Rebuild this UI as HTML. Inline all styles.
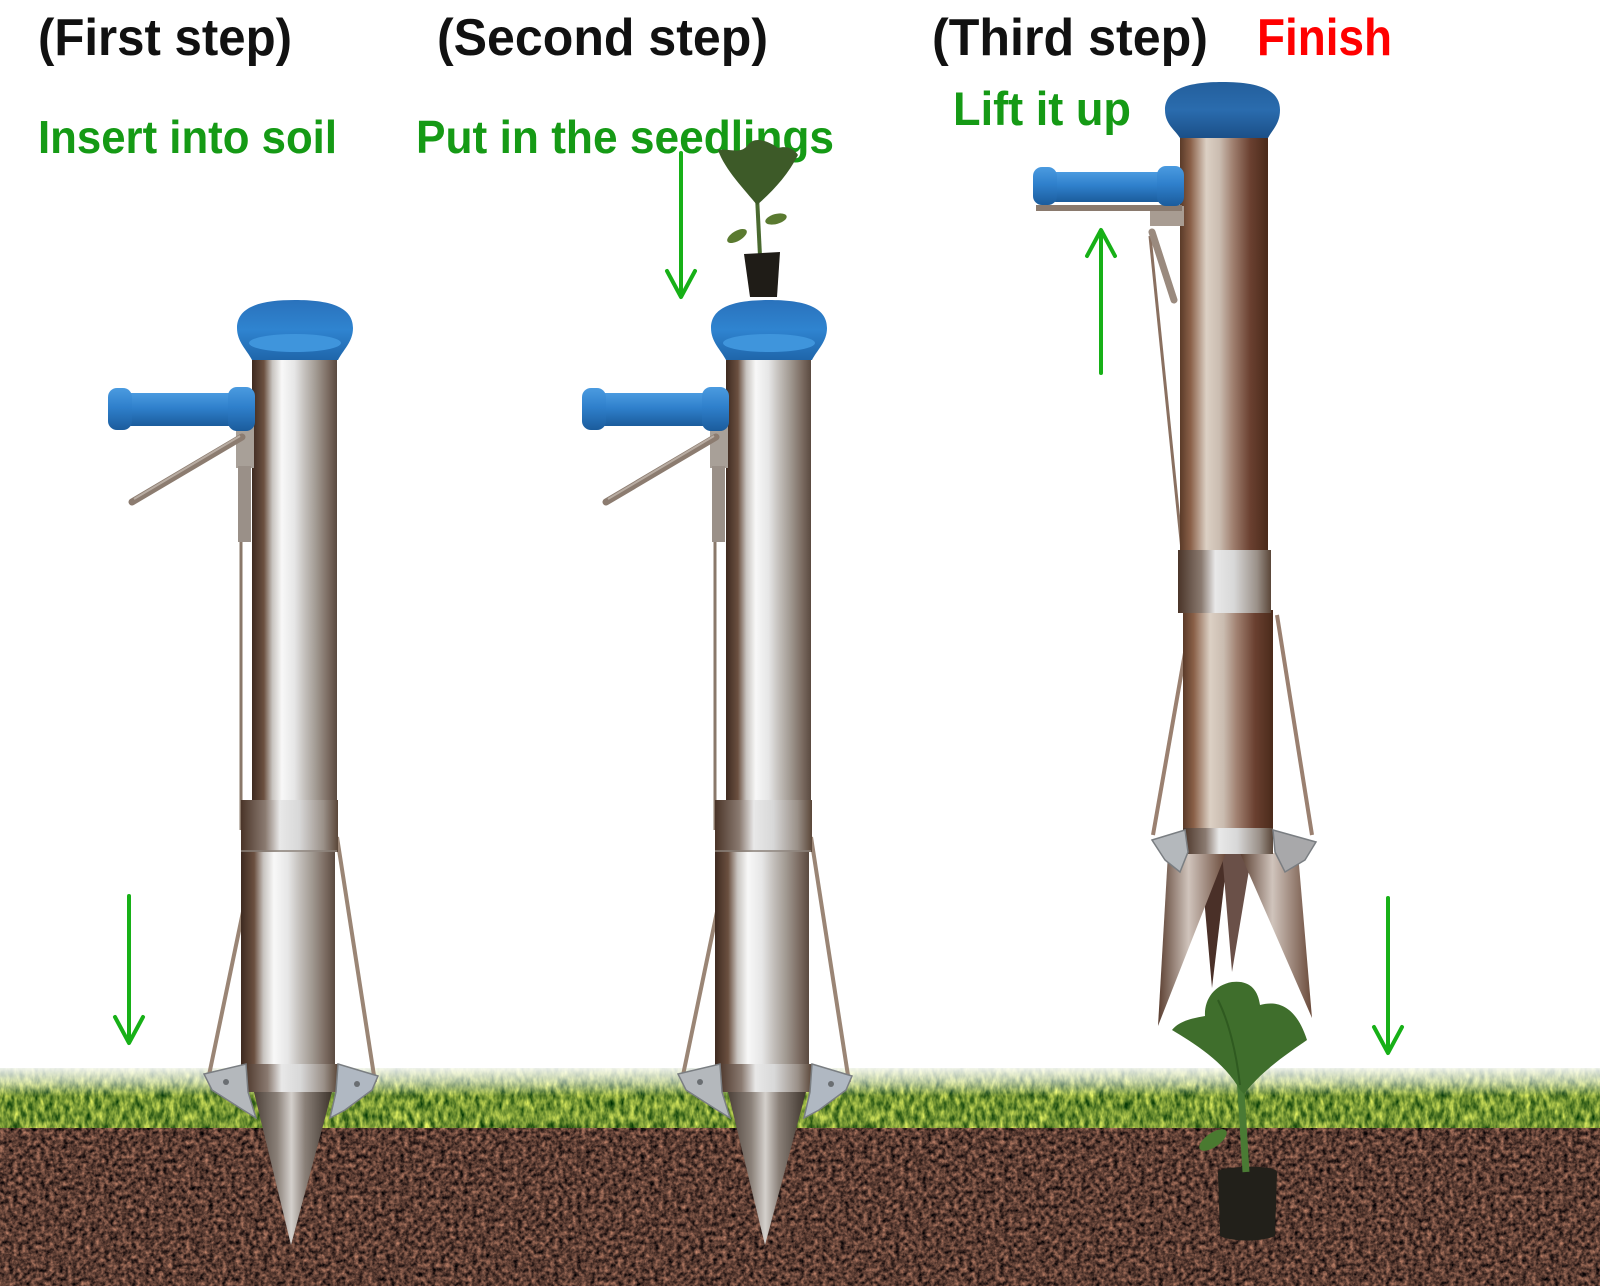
<!DOCTYPE html>
<html>
<head>
<meta charset="utf-8">
<style>
html,body{margin:0;padding:0;background:#fff;}
svg{display:block;}
</style>
</head>
<body>
<svg width="1600" height="1286" viewBox="0 0 1600 1286" xmlns="http://www.w3.org/2000/svg">
<defs>
  <linearGradient id="metal" x1="0" y1="0" x2="1" y2="0">
    <stop offset="0" stop-color="#3e2a20"/>
    <stop offset="0.14" stop-color="#6b5040"/>
    <stop offset="0.24" stop-color="#c8c4c0"/>
    <stop offset="0.35" stop-color="#f8f8f8"/>
    <stop offset="0.5" stop-color="#e6e6e6"/>
    <stop offset="0.62" stop-color="#c4c0bc"/>
    <stop offset="0.76" stop-color="#a09890"/>
    <stop offset="0.9" stop-color="#7a6a60"/>
    <stop offset="1" stop-color="#5a4a40"/>
  </linearGradient>
  <linearGradient id="ring" x1="0" y1="0" x2="1" y2="0">
    <stop offset="0" stop-color="#4a3428"/>
    <stop offset="0.25" stop-color="#8a7a70"/>
    <stop offset="0.4" stop-color="#e8e8e8"/>
    <stop offset="0.6" stop-color="#d8d8d8"/>
    <stop offset="0.85" stop-color="#9a9088"/>
    <stop offset="1" stop-color="#5a4638"/>
  </linearGradient>
  <linearGradient id="bronze" x1="0" y1="0" x2="1" y2="0">
    <stop offset="0" stop-color="#5a3a28"/>
    <stop offset="0.12" stop-color="#8a6048"/>
    <stop offset="0.3" stop-color="#dcd0c4"/>
    <stop offset="0.45" stop-color="#cabcb0"/>
    <stop offset="0.6" stop-color="#a08070"/>
    <stop offset="0.8" stop-color="#6a4030"/>
    <stop offset="1" stop-color="#4a2a1a"/>
  </linearGradient>
  <linearGradient id="cone" x1="0" y1="0" x2="1" y2="0">
    <stop offset="0" stop-color="#4a3e36"/>
    <stop offset="0.3" stop-color="#8a8078"/>
    <stop offset="0.48" stop-color="#d4d0cc"/>
    <stop offset="0.65" stop-color="#8a8078"/>
    <stop offset="1" stop-color="#3a3028"/>
  </linearGradient>
  <linearGradient id="spike" x1="0" y1="0" x2="1" y2="0">
    <stop offset="0" stop-color="#5a3e30"/>
    <stop offset="0.45" stop-color="#d0c4bc"/>
    <stop offset="1" stop-color="#6a4a3a"/>
  </linearGradient>
  <linearGradient id="blue" x1="0" y1="0" x2="0" y2="1">
    <stop offset="0" stop-color="#4b9be0"/>
    <stop offset="0.45" stop-color="#2f80cc"/>
    <stop offset="1" stop-color="#1b5c9c"/>
  </linearGradient>
  <linearGradient id="cap" x1="0" y1="0" x2="0" y2="1">
    <stop offset="0" stop-color="#2a72bc"/>
    <stop offset="0.5" stop-color="#2f84d0"/>
    <stop offset="1" stop-color="#1f66aa"/>
  </linearGradient>
  <linearGradient id="cap3" x1="0" y1="0" x2="0" y2="1">
    <stop offset="0" stop-color="#245f9c"/>
    <stop offset="0.5" stop-color="#2a6cae"/>
    <stop offset="1" stop-color="#1b5088"/>
  </linearGradient>
  <linearGradient id="fade" x1="0" y1="0" x2="0" y2="1">
    <stop offset="0" stop-color="#fff" stop-opacity="1"/>
    <stop offset="0.55" stop-color="#fff" stop-opacity="0.55"/>
    <stop offset="1" stop-color="#fff" stop-opacity="0"/>
  </linearGradient>
  <filter id="soilF" x="0" y="0" width="1" height="1" filterUnits="objectBoundingBox" color-interpolation-filters="sRGB">
    <feTurbulence type="fractalNoise" baseFrequency="0.22" numOctaves="3" seed="4" result="n"/>
    <feColorMatrix in="n" type="matrix" values="1.0 0 0 0 -0.14  0.7 0 0 0 -0.11  0.55 0 0 0 -0.075  0 0 0 0 1"/>
  </filter>
  <filter id="grassF" x="0" y="0" width="1" height="1" filterUnits="objectBoundingBox" color-interpolation-filters="sRGB">
    <feTurbulence type="fractalNoise" baseFrequency="0.2 0.09" numOctaves="3" seed="7" result="n"/>
    <feColorMatrix in="n" type="matrix" values="1.2 0 0 0 -0.15  1.0 0 0 0 0.08  0.5 0 0 0 -0.05  0 0 0 0 1"/>
  </filter>
</defs>

<rect width="1600" height="1286" fill="#fff"/>

<!-- ground -->
<rect x="0" y="1068" width="1600" height="64" filter="url(#grassF)"/>
<rect x="0" y="1064" width="1600" height="32" fill="url(#fade)"/>
<rect x="0" y="1128" width="1600" height="158" filter="url(#soilF)"/>

<!-- text -->
<g font-family="'Liberation Sans', sans-serif" font-weight="bold">
  <text x="38" y="55" font-size="52" fill="#111" textLength="254" lengthAdjust="spacingAndGlyphs">(First step)</text>
  <text x="437" y="55" font-size="52" fill="#111" textLength="331" lengthAdjust="spacingAndGlyphs">(Second step)</text>
  <text x="932" y="55" font-size="52" fill="#111" textLength="276" lengthAdjust="spacingAndGlyphs">(Third step)</text>
  <text x="1257" y="55" font-size="52" fill="#ff0000" textLength="135" lengthAdjust="spacingAndGlyphs">Finish</text>
  <text x="38" y="153" font-size="46" fill="#159a15" textLength="299" lengthAdjust="spacingAndGlyphs">Insert into soil</text>
  <text x="416" y="153" font-size="46" fill="#159a15" textLength="418" lengthAdjust="spacingAndGlyphs">Put in the seedlings</text>
  <text x="953" y="125" font-size="47" fill="#159a15" textLength="178" lengthAdjust="spacingAndGlyphs">Lift it up</text>
</g>

<!-- arrows -->
<g stroke="#17b017" stroke-width="4" fill="none" stroke-linecap="round" stroke-linejoin="round">
  <line x1="129" y1="896" x2="129" y2="1042"/>
  <polyline points="115,1017 129,1043 143,1017"/>
  <line x1="681" y1="153" x2="681" y2="296"/>
  <polyline points="667,271 681,297 695,271"/>
  <line x1="1101" y1="373" x2="1101" y2="231"/>
  <polyline points="1087,256 1101,230 1115,256"/>
  <line x1="1388" y1="898" x2="1388" y2="1052"/>
  <polyline points="1374,1027 1388,1053 1402,1027"/>
</g>

<!-- tool 1 -->
<g id="tool1">
  <line x1="260" y1="830" x2="208" y2="1080" stroke="#9a8575" stroke-width="4"/>
  <line x1="337" y1="837" x2="375" y2="1082" stroke="#9a8575" stroke-width="4"/>
  <line x1="241" y1="450" x2="241" y2="830" stroke="#8a786a" stroke-width="3"/>
  <rect x="252" y="345" width="85" height="460" fill="url(#metal)"/>
  <rect x="241" y="850" width="94" height="218" fill="url(#metal)"/>
  <rect x="241" y="800" width="97" height="52" fill="url(#ring)"/>
  <line x1="241" y1="851" x2="337" y2="851" stroke="#8a8078" stroke-width="1.5"/>
  <path d="M253,1088 L333,1088 L291,1245 Z" fill="url(#cone)"/>
  <rect x="244" y="1064" width="94" height="28" fill="url(#ring)"/>
  <polygon points="204,1074 246,1064 248,1092 256,1118 240,1108 212,1090" fill="#b4b8bc" stroke="#7a7e82" stroke-width="1.5"/>
  <polygon points="338,1064 378,1076 372,1090 345,1110 330,1118 336,1092" fill="#b0b8c2" stroke="#7a7e82" stroke-width="1.5"/>
  <circle cx="226" cy="1082" r="3" fill="#6a6e72"/>
  <circle cx="357" cy="1084" r="3" fill="#6a6e72"/>
  <rect x="236" y="426" width="18" height="42" fill="#a8a098"/>
  <rect x="238" y="466" width="13" height="76" fill="#9a9088"/>
  <line x1="132" y1="502" x2="242" y2="437" stroke="#8c7c70" stroke-width="7" stroke-linecap="round"/>
  <line x1="134" y1="499" x2="240" y2="436" stroke="#b8aca2" stroke-width="2"/>
  <rect x="125" y="393" width="110" height="33" rx="6" fill="url(#blue)"/>
  <rect x="108" y="388" width="24" height="42" rx="9" fill="url(#blue)"/>
  <rect x="228" y="387" width="27" height="44" rx="9" fill="url(#blue)"/>
  <path d="M237,328 C237,306 262,300 295,300 C328,300 353,306 353,328 C353,342 343,350 338,360 L252,360 C247,350 237,342 237,328 Z" fill="url(#cap)"/>
  <ellipse cx="295" cy="343" rx="46" ry="9" fill="#3f95dc"/>
</g>

<!-- tool 2 -->
<use href="#tool1" transform="translate(474,0)"/>

<!-- seedling on tool 2 -->
<g>
  <line x1="757" y1="196" x2="760" y2="256" stroke="#4a6a30" stroke-width="4"/>
  <ellipse cx="737" cy="236" rx="11" ry="5" transform="rotate(-30 737 236)" fill="#5a7a30"/>
  <ellipse cx="776" cy="219" rx="11" ry="5" transform="rotate(-15 776 219)" fill="#5a7a30"/>
  <path d="M757,205 C745,190 725,170 718,150 C730,148 740,155 748,145 C755,135 770,142 778,148 C788,145 795,150 798,155 C788,175 772,192 757,205 Z" fill="#3d5a28"/>
  <path d="M744,254 L780,252 L777,297 L750,297 Z" fill="#1f1c17"/>
</g>

<!-- tool 3 -->
<g id="tool3">
  <line x1="1192" y1="613" x2="1153" y2="835" stroke="#9a8070" stroke-width="4"/>
  <line x1="1277" y1="615" x2="1312" y2="835" stroke="#9a8070" stroke-width="4"/>
  <line x1="1150" y1="236" x2="1183" y2="560" stroke="#8a7060" stroke-width="3"/>
  <rect x="1180" y="134" width="88" height="426" fill="url(#bronze)"/>
  <rect x="1183" y="610" width="90" height="222" fill="url(#bronze)"/>
  <rect x="1178" y="550" width="93" height="63" fill="url(#ring)"/>
  <polygon points="1200,852 1228,852 1212,988" fill="#4a3028"/>
  <polygon points="1222,852 1252,852 1232,972" fill="#6a5048"/>
  <polygon points="1168,853 1226,853 1158,1026" fill="url(#spike)"/>
  <polygon points="1240,853 1298,853 1312,1018" fill="url(#spike)"/>
  <rect x="1183" y="828" width="90" height="26" fill="url(#ring)"/>
  <polygon points="1152,840 1185,830 1188,852 1180,872 1165,860" fill="#b4b8bc" stroke="#7a7e82" stroke-width="1.5"/>
  <polygon points="1273,830 1316,842 1305,860 1285,872 1275,852" fill="#a8a8aa" stroke="#7a7e82" stroke-width="1.5"/>
  <rect x="1150" y="206" width="34" height="20" fill="#a89c92"/>
  <line x1="1152" y1="232" x2="1174" y2="300" stroke="#9a8a7e" stroke-width="7" stroke-linecap="round"/>
  <line x1="1036" y1="208" x2="1182" y2="208" stroke="#8a7a6e" stroke-width="6"/>
  <rect x="1050" y="172" width="115" height="30" rx="6" fill="url(#blue)"/>
  <rect x="1033" y="167" width="24" height="38" rx="9" fill="url(#blue)"/>
  <rect x="1157" y="166" width="27" height="40" rx="9" fill="url(#blue)"/>
  <path d="M1165,110 C1165,88 1190,82 1222,82 C1255,82 1280,88 1280,110 C1280,124 1272,130 1268,138 L1180,138 C1175,130 1165,124 1165,110 Z" fill="url(#cap3)"/>
</g>

<!-- plant in soil -->
<g>
  <path d="M1218,1172 C1218,1166 1276,1164 1277,1172 L1275,1236 C1262,1242 1232,1242 1220,1236 Z" fill="#22201a"/>
  <line x1="1240" y1="1075" x2="1246" y2="1172" stroke="#4a7a34" stroke-width="7"/>
  <ellipse cx="1213" cy="1140" rx="16" ry="7" transform="rotate(-35 1213 1140)" fill="#4a7a30"/>
  <path d="M1240,1090 C1225,1062 1192,1042 1172,1030 C1180,1020 1195,1018 1205,1016 C1204,1000 1214,985 1232,982 C1250,980 1258,990 1260,1005 C1278,1000 1296,1006 1307,1040 C1290,1052 1262,1070 1244,1094 Z" fill="#3f6e2c"/>
  <path d="M1240,1085 C1236,1050 1228,1020 1218,1000" stroke="#2f5a20" stroke-width="2" fill="none"/>
</g>
</svg>
</body>
</html>
